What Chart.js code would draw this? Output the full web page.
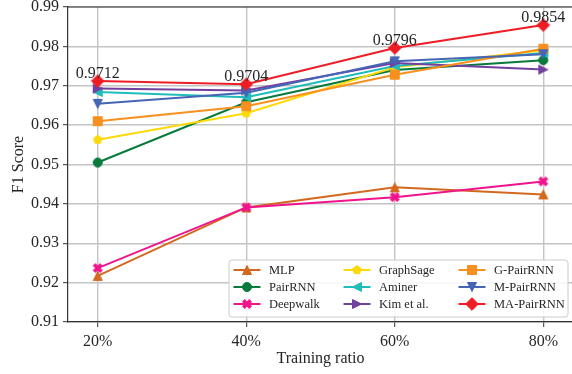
<!DOCTYPE html>
<html>
<head>
<meta charset="utf-8">
<script src="https://cdn.jsdelivr.net/npm/chart.js@4/dist/chart.umd.min.js"></script>
<style>
  html, body { margin: 0; padding: 0; overflow: hidden; background: #ffffff; }
  #wrap { position: relative; width: 580px; height: 374px; }
</style>
</head>
<body>
<div id="wrap"><canvas id="chart" width="580" height="374"></canvas></div>
<script>
// Training ratios on the x axis and F1 score ticks on the y axis
const ratioLabels = ['20%', '40%', '60%', '80%'];
const yTickValues = [0.91, 0.92, 0.93, 0.94, 0.95, 0.96, 0.97, 0.98, 0.99];

// F1 score of each method per training ratio
const mlp       = [0.9217, 0.9391, 0.9442, 0.9424];
const pairRnn   = [0.9505, 0.9658, 0.9740, 0.9765];
const deepwalk  = [0.9237, 0.9391, 0.9417, 0.9457];
const graphSage = [0.9563, 0.9630, 0.9747, 0.9790];
const aminer    = [0.9684, 0.9671, 0.9750, 0.9783];
const kimEtAl   = [0.9693, 0.9688, 0.9758, 0.9741];
const gPairRnn  = [0.9610, 0.9648, 0.9728, 0.9794];
const mPairRnn  = [0.9654, 0.9682, 0.9762, 0.9780];
const maPairRnn = [0.9712, 0.9704, 0.9796, 0.9854];

const methodNames = ['MLP', 'PairRNN', 'Deepwalk', 'GraphSage', 'Aminer', 'Kim et al.', 'G-PairRNN', 'M-PairRNN', 'MA-PairRNN'];
const methodValues = [mlp, pairRnn, deepwalk, graphSage, aminer, kimEtAl, gPairRnn, mPairRnn, maPairRnn];
const methodColors = ['#d2691e', '#087a3c', '#f0148c', '#fcd90a', '#1fbcbc', '#7440a0', '#f7901e', '#4565b5', '#ee1c24'];
const methodMarkers = ['triUp', 'circle', 'xFilled', 'pentagon', 'triLeft', 'triRight', 'square', 'triDown', 'diamond'];

const SERIF = '"Liberation Serif", "Times New Roman", serif';
const INK = '#262626';

// Marker glyphs rendered onto small canvases (used as point styles)
function makeMarker(shape, color) {
  const s = 9;          // marker size in px
  const h = s / 2;
  const size = 18;
  const c = document.createElement('canvas');
  c.width = size; c.height = size;
  const g = c.getContext('2d');
  g.translate(size / 2, size / 2);
  g.fillStyle = color;
  g.strokeStyle = color;
  g.lineWidth = 1;
  g.beginPath();
  const poly = pts => {
    g.moveTo(pts[0][0], pts[0][1]);
    for (let i = 1; i < pts.length; i++) g.lineTo(pts[i][0], pts[i][1]);
    g.closePath();
  };
  switch (shape) {
    case 'circle': g.arc(0, 0, h, 0, Math.PI * 2); break;
    case 'triUp': poly([[0, -h], [h, h], [-h, h]]); break;
    case 'triDown': poly([[0, h], [h, -h], [-h, -h]]); break;
    case 'triLeft': poly([[-h, 0], [h, -h], [h, h]]); break;
    case 'triRight': poly([[h, 0], [-h, -h], [-h, h]]); break;
    case 'square': poly([[-h, -h], [h, -h], [h, h], [-h, h]]); break;
    case 'diamond': { const d = h * Math.SQRT2; poly([[0, -d], [d, 0], [0, d], [-d, 0]]); break; }
    case 'pentagon': {
      const pts = [];
      for (let i = 0; i < 5; i++) {
        const a = -Math.PI / 2 + i * 2 * Math.PI / 5;
        pts.push([h * Math.cos(a), h * Math.sin(a)]);
      }
      poly(pts); break;
    }
    case 'xFilled': {
      // filled "X": a plus sign turned by 45 degrees
      const base = [[-1, -2], [0, -1], [1, -2], [2, -1], [1, 0], [2, 1], [1, 2], [0, 1], [-1, 2], [-2, 1], [-1, 0], [-2, -1]];
      poly(base.map(p => [p[0] * h / 2, p[1] * h / 2]));
      break;
    }
  }
  g.fill();
  g.stroke();
  return c;
}

const markerImages = methodMarkers.map((m, i) => makeMarker(m, methodColors[i]));

const datasets = methodNames.map((name, i) => ({
  label: name,
  data: methodValues[i].map((v, j) => ({ x: j, y: v })),
  borderColor: methodColors[i],
  backgroundColor: methodColors[i],
  borderWidth: 2,
  pointStyle: markerImages[i],
  pointRadius: 5,
  pointHoverRadius: 5,
  tension: 0,
  fill: false,
  order: methodNames.length - i
}));

// Value labels above the MA-PairRNN points
const valueLabels = {
  id: 'valueLabels',
  afterDatasetsDraw(chart) {
    const idx = methodNames.indexOf('MA-PairRNN');
    const meta = chart.getDatasetMeta(idx);
    const ctx = chart.ctx;
    ctx.save();
    ctx.font = '16px ' + SERIF;
    ctx.fillStyle = INK;
    ctx.textAlign = 'center';
    ctx.textBaseline = 'alphabetic';
    meta.data.forEach((pt, j) => {
      ctx.fillText(maPairRnn[j].toFixed(4), pt.x, pt.y - 3);
    });
    ctx.restore();
  }
};

// Top and right frame lines of the plot area
const frame = {
  id: 'frame',
  afterDatasetsDraw(chart) {
    const { left, right, top, bottom } = chart.chartArea;
    const ctx = chart.ctx;
    ctx.save();
    ctx.strokeStyle = '#333333';
    ctx.lineWidth = 1.2;
    ctx.beginPath();
    ctx.moveTo(left, top); ctx.lineTo(right, top);
    ctx.moveTo(right, top); ctx.lineTo(right, bottom);
    ctx.stroke();
    ctx.restore();
  }
};

// Three-column legend in the lower right corner of the plot
const boxLegend = {
  id: 'boxLegend',
  afterDraw(chart) {
    const ctx = chart.ctx;
    const bx = 229, by = 260, bw = 339, bh = 57, r = 3;
    ctx.save();
    ctx.fillStyle = 'rgba(255,255,255,0.85)';
    ctx.strokeStyle = '#cccccc';
    ctx.lineWidth = 1;
    ctx.beginPath();
    ctx.moveTo(bx + r, by);
    ctx.arcTo(bx + bw, by, bx + bw, by + bh, r);
    ctx.arcTo(bx + bw, by + bh, bx, by + bh, r);
    ctx.arcTo(bx, by + bh, bx, by, r);
    ctx.arcTo(bx, by, bx + bw, by, r);
    ctx.closePath();
    ctx.fill();
    ctx.stroke();

    const colX = [247, 357, 472];
    const rowY = [270, 287, 304];
    ctx.font = '12.5px ' + SERIF;
    ctx.textBaseline = 'middle';
    ctx.textAlign = 'left';
    methodNames.forEach((name, i) => {
      const col = Math.floor(i / 3), row = i % 3;
      const cx = colX[col], cy = rowY[row];
      ctx.strokeStyle = methodColors[i];
      ctx.lineWidth = 2;
      ctx.beginPath();
      ctx.moveTo(cx - 13.5, cy); ctx.lineTo(cx + 13.5, cy);
      ctx.stroke();
      const img = markerImages[i];
      ctx.drawImage(img, cx - img.width / 2, cy - img.height / 2);
      ctx.fillStyle = INK;
      ctx.fillText(name, cx + 22, cy + 0.5);
    });
    ctx.restore();
  }
};

new Chart(document.getElementById('chart'), {
  type: 'line',
  data: { datasets },
  plugins: [valueLabels, frame, boxLegend],
  options: {
    responsive: false,
    animation: false,
    events: [],
    layout: { padding: { left: 0, right: 6, top: 6, bottom: 0 } },
    plugins: { legend: { display: false }, tooltip: { enabled: false } },
    scales: {
      x: {
        type: 'linear',
        min: -0.2,
        max: 3.2,
        afterBuildTicks(scale) { scale.ticks = ratioLabels.map((_, i) => ({ value: i })); },
        afterFit(scale) { scale.height = 52; scale.paddingLeft = 0; scale.paddingRight = 0; },
        ticks: {
          callback: v => ratioLabels[v] ?? '',
          font: { family: SERIF, size: 16 },
          color: INK,
          padding: 5,
          maxRotation: 0,
          autoSkip: false
        },
        grid: { color: '#c4c4c4', lineWidth: 1.4, tickLength: 5, tickColor: '#333333', tickWidth: 1 },
        border: { display: true, color: '#333333', width: 1.2 },
        title: {
          display: true,
          text: 'Training ratio',
          font: { family: SERIF, size: 16 },
          color: INK,
          padding: { top: 0, bottom: 5.5 }
        }
      },
      y: {
        type: 'linear',
        min: 0.91,
        max: 0.99,
        afterBuildTicks(scale) { scale.ticks = yTickValues.map(v => ({ value: v })); },
        afterFit(scale) { scale.width = 68; scale.paddingTop = 0; scale.paddingBottom = 0; },
        ticks: {
          callback: v => Number(v).toFixed(2),
          font: { family: SERIF, size: 16 },
          color: INK,
          padding: 4
        },
        grid: { color: '#c4c4c4', lineWidth: 1.4, tickLength: 5, tickColor: '#333333', tickWidth: 1 },
        border: { display: true, color: '#333333', width: 1.2 },
        title: {
          display: true,
          text: 'F1 Score',
          font: { family: SERIF, size: 16 },
          color: INK,
          padding: { top: 9, bottom: 0 }
        }
      }
    }
  }
});
</script>
</body>
</html>
